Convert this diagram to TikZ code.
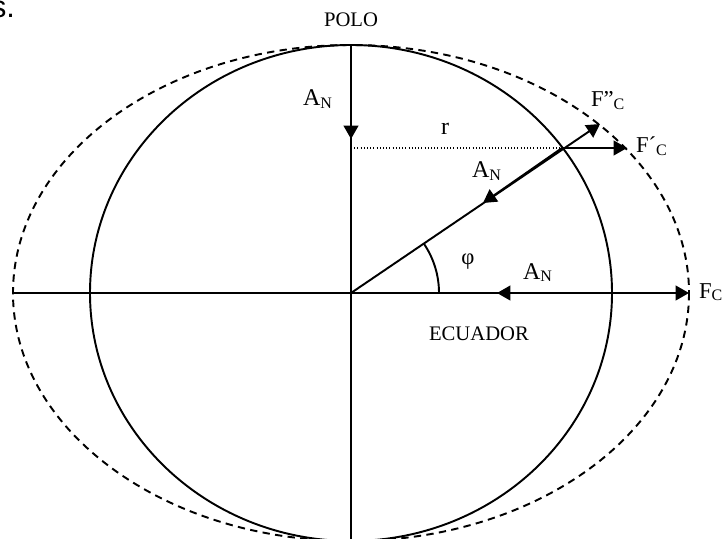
\documentclass[tikz,border=0pt]{standalone}
\usepackage{fontspec}
\setmainfont{Liberation Serif}
\newfontfamily\arialfont{Liberation Sans}
\usetikzlibrary{arrows.meta}
\newcommand{\lblsub}[2]{#1\raisebox{-2pt}{\fontsize{12}{12}\selectfont #2}}
\begin{document}
\begin{tikzpicture}[x=0.75pt,y=-0.75pt,
  thickline/.style={line width=1.45pt},
  dashline/.style={line width=1.45pt,dash pattern=on 5.5pt off 4pt},
  dotline/.style={line width=0.8pt,dash pattern=on 0.8pt off 1.6pt},
  vec/.style={line width=1.45pt,-{Triangle[length=10pt,width=11pt]}},
  lbl/.style={inner sep=0pt,outer sep=0pt},
  bigfont/.style={font=\fontsize{18}{18}\selectfont},
  capfont/.style={font=\fontsize{15.5}{15.5}\selectfont},
  ffont/.style={font=\fontsize{17}{17}\selectfont},
]
\useasboundingbox (0,0) rectangle (723,538);
\clip (0,0) rectangle (723,538);
% points
\coordinate (O) at (351,293);
\coordinate (N) at (351,45);
\coordinate (S) at (351,545);
\coordinate (W) at (13,293);
\coordinate (FC) at (689,293);
\coordinate (Eq) at (612,293);
\coordinate (ANh) at (497,293);
\coordinate (ANv) at (351,139);
\coordinate (R) at (351,148);
\coordinate (P) at (562,148);
\coordinate (Fp) at (627,148);
\coordinate (Fpp) at (600,124);
\coordinate (ANr) at (483,203);
\coordinate (A1) at (439,293);
% ellipses
\draw[thickline] (O) ellipse [x radius=261, y radius=248];
\draw[dashline] (O) ellipse [x radius=338, y radius=248];
% axes
\draw[thickline] (N) -- (S);
\draw[thickline] (W) -- (Eq);
% arrows
\draw[vec] (N) -- (ANv);
\draw[vec] (Eq) -- (FC);
\draw[vec] (Eq) -- (ANh);
\draw[vec] (O) -- (Fpp);
\draw[vec] (P) -- (ANr);
\draw[vec] (P) -- (Fp);
\draw[dotline] (R) -- (P);
% angle
\draw[thickline] (A1) arc [start angle=0, end angle=-34, radius=88];
% labels
\node[lbl,font=\arialfont\fontsize{23}{23}\selectfont,anchor=base east] (s) at (15,18) {s.};
\node[lbl,capfont] (polo) at (351,19.5) {POLO};
\node[lbl,capfont] (ecuador) at (479,334) {ECUADOR};
\node[lbl,bigfont,anchor=base west] (an1) at (303,106) {\lblsub{A}{N}};
\node[lbl,bigfont,anchor=base west] (an2) at (472,178) {\lblsub{A}{N}};
\node[lbl,bigfont,anchor=base west] (an3) at (523,279) {\lblsub{A}{N}};
\node[lbl,bigfont,anchor=base west] (r) at (441,135) {r};
\node[lbl,ffont] (phi) at (468,262) {φ};
\node[lbl,ffont,anchor=base west] (fpp) at (591,107) {\lblsub{F”}{C}};
\node[lbl,ffont,anchor=base west] (fp) at (636,153) {\lblsub{F´}{C}};
\node[lbl,ffont,anchor=base west] (fc) at (699,298) {\lblsub{F}{C}};
\end{tikzpicture}
\end{document}
